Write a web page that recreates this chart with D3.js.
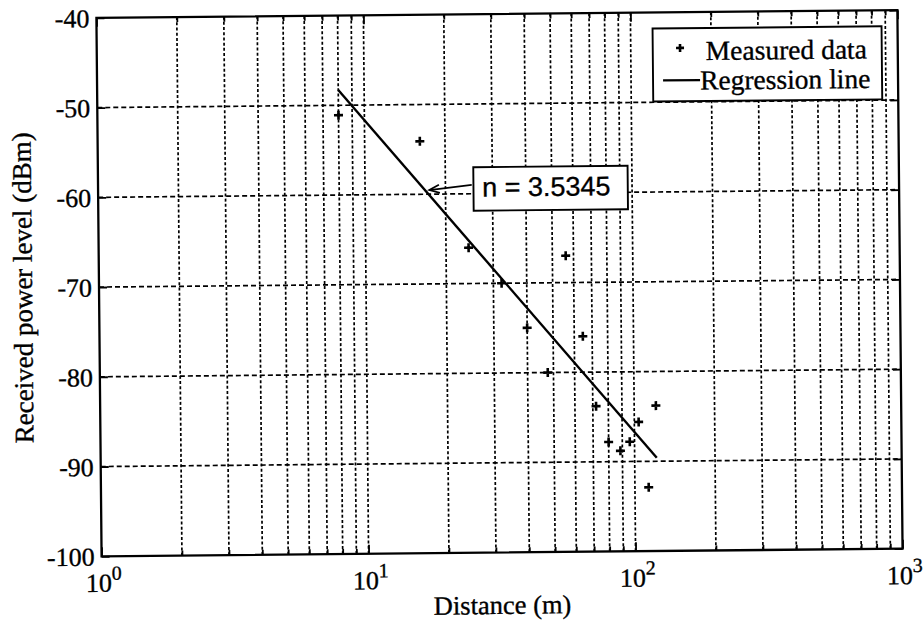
<!DOCTYPE html>
<html><head><meta charset="utf-8">
<script src="https://cdn.jsdelivr.net/npm/d3@7"></script>
<style>body{margin:0;background:#fff} svg{display:block} text{stroke:#000;stroke-width:0.35px}</style>
</head><body>
<svg id="c" width="923" height="623"></svg>
<script>
// ---- data ----
const distance = [8.0, 16.1, 24.3, 32.2, 40, 47.6, 56.1, 64.6, 72, 80, 88.5, 96, 103.8, 112.6, 120.6];
const power    = [-51.1, -54.1, -66.0, -70.0, -75.0, -80.0, -67.0, -76.0, -83.8, -87.8, -88.8, -87.8, -85.6, -92.9, -83.8];
const regDistance = [8, 121];
const regPower    = [-48.3, -89.6];
const yTicks = [-100, -90, -80, -70, -60, -50, -40];
const xDecades = [1, 10, 100, 1000];
const xDecadeExp = ["0", "1", "2", "3"];
const legendLabels = ["Measured data", "Regression line"];
const annotationText = "n = 3.5345";
const xLabel = "Distance (m)";
const yLabel = "Received power level (dBm)";

// ---- layout ----
const X0 = 99, X1 = 900, Y0 = 14, Y1 = 552.5;
const serif = "'Liberation Serif','Times New Roman',serif";
const sans = "'Liberation Sans',Arial,sans-serif";

const svg = d3.select("#c");
const g = svg.append("g").attr("transform", "rotate(-0.55,500,285)");

const x = d3.scaleLog().domain([1, 1000]).range([X0, X1]);
const y = d3.scaleLinear().domain([-100, -40]).range([Y1, Y0]);

const allX = x.ticks();
const minorX = allX.filter(v => !xDecades.includes(v));

// grid
g.append("g").selectAll("line").data(allX.filter(v => v > 1 && v < 1000)).join("line")
  .attr("x1", d => x(d)).attr("x2", d => x(d)).attr("y1", Y0).attr("y2", Y1)
  .attr("stroke", "#000").attr("stroke-width", 1.7).attr("stroke-dasharray", "3,2.2");
g.append("g").selectAll("line").data(yTicks.filter(v => v > -100 && v < -40)).join("line")
  .attr("x1", X0).attr("x2", X1).attr("y1", d => y(d)).attr("y2", d => y(d))
  .attr("stroke", "#000").attr("stroke-width", 1.7).attr("stroke-dasharray", "5,3");

// axes (inward ticks)
function styleAxis(sel) {
  sel.select(".domain").remove();
  sel.selectAll(".tick line").attr("stroke", "#000").attr("stroke-width", 1.8);
  sel.attr("font-family", serif);
}
g.append("g").attr("transform", `translate(${X0},0)`)
  .call(d3.axisLeft(y).tickValues(yTicks).tickSize(-8).tickPadding(7).tickFormat(d => String(d)))
  .call(styleAxis)
  .selectAll("text").attr("font-size", 26).attr("fill", "#000").attr("dy", "0.34em");
g.append("g").attr("transform", `translate(${X1},0)`)
  .call(d3.axisRight(y).tickValues(yTicks).tickSize(-8).tickFormat(""))
  .call(styleAxis);
g.append("g").attr("transform", `translate(0,${Y1})`)
  .call(d3.axisBottom(x).tickValues(xDecades).tickSize(-9).tickFormat(""))
  .call(styleAxis);
g.append("g").attr("transform", `translate(0,${Y1})`)
  .call(d3.axisBottom(x).tickValues(minorX).tickSize(-5).tickFormat(""))
  .call(styleAxis);
g.append("g").attr("transform", `translate(0,${Y0})`)
  .call(d3.axisTop(x).tickValues(xDecades).tickSize(-9).tickFormat(""))
  .call(styleAxis);
g.append("g").attr("transform", `translate(0,${Y0})`)
  .call(d3.axisTop(x).tickValues(minorX).tickSize(-5).tickFormat(""))
  .call(styleAxis);

// x tick labels 10^k
const xl = g.append("g").selectAll("text").data(xDecades).join("text")
  .attr("x", d => x(d) + 2).attr("y", Y1 + 35.5)
  .attr("text-anchor", "middle").attr("font-family", serif).attr("font-size", 26).attr("fill", "#000");
xl.append("tspan").text("10");
xl.append("tspan").attr("dy", -12).attr("font-size", 20).text((d, i) => xDecadeExp[i]);

// frame
g.append("rect").attr("x", X0).attr("y", Y0).attr("width", X1 - X0).attr("height", Y1 - Y0)
  .attr("fill", "none").attr("stroke", "#000").attr("stroke-width", 2.3);

// regression line
g.append("path")
  .datum(regDistance.map((d, i) => [d, regPower[i]]))
  .attr("d", d3.line().x(d => x(d[0])).y(d => y(d[1])))
  .attr("fill", "none").attr("stroke", "#000").attr("stroke-width", 2.4);

// measured data '+'
g.append("g").selectAll("path").data(distance.map((d, i) => [d, power[i]])).join("path")
  .attr("transform", d => `translate(${x(d[0])},${y(d[1])})`)
  .attr("d", "M-4.5,0H4.5M0,-4.5V4.5")
  .attr("stroke", "#000").attr("stroke-width", 2.6).attr("fill", "none");

// annotation
const tip = [430.2, 189.4], tail = [472.7, 184.6];
g.append("line").attr("x1", tail[0]).attr("y1", tail[1]).attr("x2", tip[0]).attr("y2", tip[1])
  .attr("stroke", "#000").attr("stroke-width", 1.7);
{
  const dx = tail[0] - tip[0], dy = tail[1] - tip[1];
  const len = Math.hypot(dx, dy), ux = dx / len, uy = dy / len;
  const L = 11, a = 22 * Math.PI / 180;
  const b1 = [tip[0] + L * (ux * Math.cos(a) - uy * Math.sin(a)), tip[1] + L * (ux * Math.sin(a) + uy * Math.cos(a))];
  const b2 = [tip[0] + L * (ux * Math.cos(-a) - uy * Math.sin(-a)), tip[1] + L * (ux * Math.sin(-a) + uy * Math.cos(-a))];
  g.append("path").attr("d", `M${b1}L${tip}L${b2}`).attr("fill", "none").attr("stroke", "#000").attr("stroke-width", 1.7);
}
g.append("rect").attr("x", 474.4).attr("y", 167).attr("width", 154.3).attr("height", 43.5)
  .attr("fill", "#fff").attr("stroke", "#000").attr("stroke-width", 1.9);
g.append("text").attr("x", 483).attr("y", 196.4).attr("font-family", sans).attr("font-size", 27)
  .attr("fill", "#000").text(annotationText);

// legend
const lg = g.append("g");
lg.append("rect").attr("x", 655).attr("y", 30).attr("width", 229).attr("height", 73)
  .attr("fill", "#fff").attr("stroke", "#000").attr("stroke-width", 1.9);
lg.append("path").attr("transform", "translate(682.3,49.7)").attr("d", "M-4,0H4M0,-4V4")
  .attr("stroke", "#000").attr("stroke-width", 2.6);
lg.append("line").attr("x1", 665).attr("x2", 702).attr("y1", 82).attr("y2", 82)
  .attr("stroke", "#000").attr("stroke-width", 2.2);
lg.append("text").attr("x", 708).attr("y", 62).attr("font-family", serif).attr("font-size", 27.5)
  .attr("fill", "#000").text(legendLabels[0]);
lg.append("text").attr("x", 702).attr("y", 91.5).attr("font-family", serif).attr("font-size", 27.5)
  .attr("fill", "#000").text(legendLabels[1]);

// axis titles
g.append("text").attr("x", (X0 + X1) / 2).attr("y", 614).attr("text-anchor", "middle")
  .attr("font-family", serif).attr("font-size", 26.5).attr("fill", "#000").text(xLabel);
g.append("text").attr("transform", `translate(32,${(Y0 + Y1) / 2}) rotate(-90)`).attr("text-anchor", "middle")
  .attr("font-family", serif).attr("font-size", 27).attr("fill", "#000").text(yLabel);
</script>
</body></html>
